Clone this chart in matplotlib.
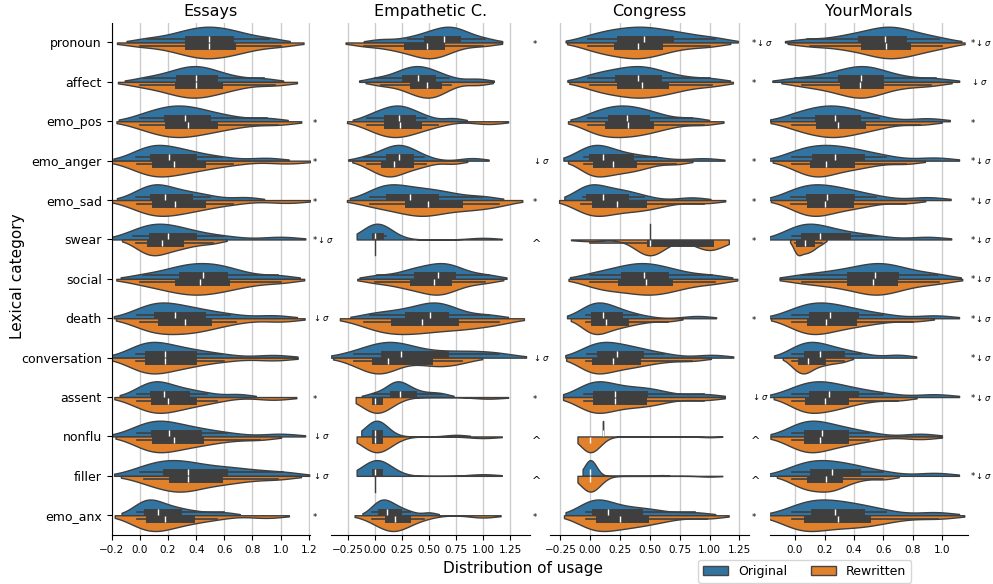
import numpy as np
import pandas as pd
import matplotlib
matplotlib.use("Agg")
import matplotlib.pyplot as plt
import matplotlib.transforms as mtransforms
import seaborn as sns

categories = ["pronoun", "affect", "emo_pos", "emo_anger", "emo_sad", "swear", "social",
              "death", "conversation", "assent", "nonflu", "filler", "emo_anx"]
datasets = ["Essays", "Empathetic C.", "Congress", "YourMorals"]
sources = ["Original", "Rewritten"]

# sample values (one list per category)
essays_orig = [
    [0.05, 0.22, 0.31, 0.38, 0.44, 0.49, 0.54, 0.61, 0.67, 0.76, 0.92],
    [0.03, 0.17, 0.25, 0.31, 0.36, 0.40, 0.44, 0.50, 0.56, 0.68, 0.88],
    [0.0, 0.10, 0.16, 0.22, 0.27, 0.32, 0.37, 0.44, 0.52, 0.65, 0.90],
    [-0.03, 0.04, 0.08, 0.11, 0.15, 0.21, 0.27, 0.34, 0.42, 0.58, 0.90],
    [-0.03, 0.04, 0.07, 0.11, 0.14, 0.18, 0.23, 0.32, 0.38, 0.50, 0.75],
    [-0.05, 0.03, 0.07, 0.10, 0.15, 0.20, 0.26, 0.33, 0.42, 0.60, 1.0],
    [0.02, 0.18, 0.27, 0.33, 0.39, 0.45, 0.51, 0.57, 0.63, 0.75, 0.98],
    [-0.02, 0.06, 0.10, 0.14, 0.19, 0.25, 0.31, 0.40, 0.48, 0.64, 0.95],
    [-0.03, 0.02, 0.04, 0.08, 0.12, 0.18, 0.24, 0.34, 0.41, 0.58, 0.95],
    [-0.02, 0.04, 0.07, 0.11, 0.14, 0.17, 0.22, 0.30, 0.36, 0.48, 0.70],
    [-0.02, 0.04, 0.08, 0.12, 0.16, 0.21, 0.28, 0.37, 0.45, 0.62, 1.0],
    [0.0, 0.09, 0.15, 0.22, 0.28, 0.34, 0.42, 0.55, 0.65, 0.80, 1.02],
    [-0.02, 0.02, 0.04, 0.06, 0.09, 0.13, 0.17, 0.24, 0.30, 0.42, 0.60],
]
essays_rew = [
    [0.0, 0.20, 0.31, 0.38, 0.44, 0.49, 0.55, 0.62, 0.69, 0.80, 1.0],
    [0.0, 0.15, 0.24, 0.30, 0.36, 0.40, 0.45, 0.53, 0.59, 0.72, 0.96],
    [0.0, 0.10, 0.17, 0.23, 0.28, 0.34, 0.40, 0.49, 0.57, 0.72, 0.98],
    [-0.02, 0.05, 0.09, 0.12, 0.17, 0.24, 0.31, 0.40, 0.48, 0.66, 1.05],
    [-0.02, 0.05, 0.09, 0.13, 0.18, 0.25, 0.31, 0.40, 0.48, 0.66, 1.05],
    [-0.03, 0.03, 0.06, 0.09, 0.12, 0.16, 0.20, 0.26, 0.31, 0.40, 0.52],
    [0.0, 0.15, 0.23, 0.31, 0.37, 0.43, 0.49, 0.57, 0.65, 0.78, 1.0],
    [0.0, 0.07, 0.12, 0.18, 0.25, 0.32, 0.37, 0.45, 0.52, 0.68, 1.0],
    [-0.03, 0.02, 0.04, 0.08, 0.12, 0.18, 0.25, 0.34, 0.41, 0.60, 0.95],
    [-0.02, 0.04, 0.08, 0.12, 0.16, 0.20, 0.26, 0.35, 0.41, 0.55, 0.95],
    [-0.02, 0.05, 0.09, 0.13, 0.18, 0.24, 0.30, 0.39, 0.47, 0.62, 0.85],
    [0.03, 0.12, 0.19, 0.26, 0.30, 0.34, 0.40, 0.52, 0.60, 0.75, 0.98],
    [-0.02, 0.03, 0.05, 0.08, 0.13, 0.18, 0.23, 0.32, 0.40, 0.55, 0.90],
]
empathetic_orig = [
    [0.05, 0.30, 0.44, 0.52, 0.59, 0.64, 0.69, 0.74, 0.78, 0.86, 1.02],
    [0.0, 0.16, 0.26, 0.30, 0.35, 0.40, 0.45, 0.50, 0.56, 0.68, 0.95],
    [-0.08, 0.02, 0.08, 0.13, 0.18, 0.22, 0.26, 0.31, 0.37, 0.47, 0.72],
    [-0.10, 0.03, 0.10, 0.15, 0.19, 0.22, 0.26, 0.30, 0.34, 0.45, 0.90],
    [-0.05, 0.06, 0.10, 0.15, 0.23, 0.32, 0.40, 0.51, 0.60, 0.75, 1.0],
    [0.0, 0.0, 0.0, 0.0, 0.0, 0.0, 0.0, 0.03, 0.06, 0.10, 1.0],
    [0.02, 0.25, 0.36, 0.42, 0.52, 0.58, 0.63, 0.68, 0.74, 0.85, 1.05],
    [-0.05, 0.12, 0.25, 0.36, 0.45, 0.51, 0.56, 0.62, 0.68, 0.80, 1.05],
    [-0.20, -0.02, 0.05, 0.11, 0.17, 0.24, 0.33, 0.55, 0.75, 0.95, 1.15],
    [-0.02, 0.10, 0.15, 0.18, 0.21, 0.23, 0.26, 0.32, 0.38, 0.50, 0.62],
    [0.0, 0.0, 0.0, 0.0, 0.0, 0.0, 0.0, 0.02, 0.04, 0.08, 0.75],
    [0.0, 0.0, 0.0, 0.0, 0.0, 0.0, 0.0, 0.02, 0.05, 0.10, 1.0],
    [-0.03, 0.01, 0.04, 0.06, 0.09, 0.11, 0.14, 0.19, 0.23, 0.32, 0.50],
]
empathetic_rew = [
    [-0.10, 0.12, 0.24, 0.35, 0.42, 0.48, 0.52, 0.58, 0.63, 0.75, 1.0],
    [0.05, 0.22, 0.33, 0.37, 0.43, 0.48, 0.52, 0.56, 0.60, 0.70, 0.95],
    [-0.08, 0.02, 0.08, 0.13, 0.18, 0.23, 0.28, 0.36, 0.43, 0.58, 1.05],
    [-0.08, 0.0, 0.06, 0.10, 0.14, 0.17, 0.21, 0.29, 0.36, 0.47, 0.72],
    [-0.05, 0.12, 0.25, 0.35, 0.43, 0.49, 0.57, 0.72, 0.84, 0.98, 1.15],
    [0.0, 0.0, 0.0, 0.0, 0.0, 0.0, 0.0, 0.0, 0.0, 0.0, 0.0],
    [0.0, 0.20, 0.30, 0.40, 0.48, 0.54, 0.59, 0.64, 0.70, 0.82, 1.02],
    [-0.10, 0.05, 0.13, 0.22, 0.33, 0.43, 0.53, 0.68, 0.80, 0.95, 1.15],
    [-0.20, -0.08, -0.02, 0.02, 0.07, 0.12, 0.20, 0.44, 0.56, 0.66, 0.80],
    [0.0, 0.0, 0.0, 0.0, 0.0, 0.0, 0.0, 0.02, 0.05, 0.10, 1.05],
    [0.0, 0.0, 0.0, 0.0, 0.0, 0.0, 0.0, 0.02, 0.05, 0.10, 1.0],
    [0.0, 0.0, 0.0, 0.0, 0.0, 0.0, 0.0, 0.0, 0.0, 0.0, 0.0],
    [-0.03, 0.04, 0.10, 0.14, 0.16, 0.18, 0.21, 0.26, 0.32, 0.45, 1.0],
]
congress_orig = [
    [-0.02, 0.12, 0.20, 0.30, 0.38, 0.45, 0.52, 0.62, 0.72, 0.85, 1.05],
    [-0.02, 0.10, 0.18, 0.28, 0.34, 0.40, 0.46, 0.53, 0.61, 0.76, 1.0],
    [-0.02, 0.08, 0.14, 0.20, 0.26, 0.31, 0.36, 0.44, 0.50, 0.62, 0.85],
    [-0.05, -0.01, 0.0, 0.03, 0.07, 0.11, 0.17, 0.28, 0.38, 0.55, 0.95],
    [-0.06, -0.03, -0.02, 0.0, 0.05, 0.11, 0.20, 0.27, 0.31, 0.45, 0.85],
    [0.5, 0.5, 0.5, 0.5, 0.5, 0.5, 0.5, 0.5, 0.5, 0.5, 0.5],
    [0.0, 0.15, 0.24, 0.33, 0.39, 0.45, 0.51, 0.59, 0.67, 0.80, 1.02],
    [-0.04, 0.0, 0.02, 0.04, 0.07, 0.11, 0.15, 0.21, 0.27, 0.40, 0.90],
    [-0.03, 0.02, 0.06, 0.11, 0.16, 0.22, 0.29, 0.38, 0.45, 0.62, 1.02],
    [-0.05, 0.0, 0.03, 0.07, 0.12, 0.21, 0.30, 0.42, 0.48, 0.62, 0.95],
    [0.11, 0.11, 0.11, 0.11, 0.11, 0.11, 0.11, 0.11, 0.11, 0.11, 0.11],
    [0.0, 0.0, 0.0, 0.0, 0.0, 0.0, 0.0, 0.0, 0.0, 0.0, 0.0, 0.0, 0.0, 0.0,
     0.0, 0.0, 0.0, 0.0, 0.0, 0.0, 0.02, 0.60],
    [-0.04, 0.0, 0.02, 0.06, 0.10, 0.15, 0.25, 0.36, 0.45, 0.60, 0.88],
]
congress_rew = [
    [-0.02, 0.10, 0.18, 0.27, 0.34, 0.40, 0.46, 0.54, 0.62, 0.78, 1.0],
    [0.0, 0.12, 0.20, 0.30, 0.37, 0.43, 0.50, 0.59, 0.67, 0.80, 1.02],
    [-0.02, 0.06, 0.12, 0.18, 0.25, 0.32, 0.38, 0.46, 0.54, 0.68, 0.95],
    [-0.05, 0.0, 0.03, 0.07, 0.13, 0.19, 0.25, 0.33, 0.39, 0.50, 0.72],
    [-0.08, -0.02, 0.02, 0.06, 0.12, 0.22, 0.30, 0.41, 0.47, 0.62, 0.95],
    [0.0, 0.5, 0.5, 0.5, 0.5, 0.5, 0.5, 0.5, 0.5, 0.5, 1.0, 1.0, 1.0, 1.0, 1.0, 1.0],
    [0.0, 0.12, 0.20, 0.32, 0.40, 0.47, 0.54, 0.62, 0.70, 0.84, 1.05],
    [-0.04, 0.0, 0.02, 0.04, 0.08, 0.13, 0.18, 0.26, 0.32, 0.45, 0.65],
    [-0.04, 0.0, 0.02, 0.06, 0.12, 0.19, 0.26, 0.36, 0.43, 0.60, 0.85],
    [-0.05, 0.0, 0.03, 0.07, 0.11, 0.21, 0.30, 0.41, 0.48, 0.62, 0.95],
    [0.0, 0.0, 0.0, 0.0, 0.0, 0.0, 0.0, 0.0, 0.0, 0.0, 0.0, 0.0, 0.0, 0.0,
     0.0, 0.0, 0.0, 0.0, 0.0, 0.0, 0.02, 1.0],
    [0.0, 0.0, 0.0, 0.0, 0.0, 0.0, 0.0, 0.0, 0.0, 0.0, 0.0, 0.0, 0.0, 0.0,
     0.0, 0.0, 0.0, 0.0, 0.0, 0.0, 0.02, 1.0],
    [-0.04, 0.01, 0.04, 0.10, 0.17, 0.25, 0.32, 0.42, 0.50, 0.66, 0.98],
]
morals_orig = [
    [0.08, 0.30, 0.40, 0.50, 0.56, 0.61, 0.65, 0.71, 0.76, 0.85, 0.98],
    [0.0, 0.18, 0.27, 0.36, 0.41, 0.45, 0.49, 0.55, 0.61, 0.75, 0.96],
    [-0.02, 0.06, 0.12, 0.19, 0.23, 0.27, 0.32, 0.39, 0.45, 0.57, 0.90],
    [-0.02, 0.05, 0.10, 0.17, 0.22, 0.27, 0.33, 0.41, 0.48, 0.62, 0.95],
    [-0.03, 0.03, 0.07, 0.12, 0.17, 0.22, 0.27, 0.35, 0.41, 0.55, 0.90],
    [-0.02, 0.02, 0.04, 0.08, 0.12, 0.17, 0.22, 0.31, 0.40, 0.55, 0.90],
    [0.05, 0.22, 0.32, 0.42, 0.49, 0.54, 0.59, 0.65, 0.71, 0.82, 0.97],
    [-0.02, 0.05, 0.09, 0.14, 0.19, 0.24, 0.29, 0.37, 0.45, 0.60, 0.95],
    [-0.02, 0.03, 0.06, 0.10, 0.13, 0.17, 0.21, 0.28, 0.34, 0.45, 0.70],
    [-0.02, 0.05, 0.09, 0.14, 0.18, 0.23, 0.28, 0.37, 0.45, 0.60, 0.95],
    [-0.02, 0.03, 0.06, 0.10, 0.14, 0.18, 0.23, 0.31, 0.37, 0.50, 0.85],
    [-0.02, 0.05, 0.09, 0.15, 0.20, 0.25, 0.31, 0.39, 0.45, 0.60, 0.95],
    [-0.02, 0.06, 0.10, 0.16, 0.22, 0.27, 0.33, 0.42, 0.48, 0.62, 0.95],
]
morals_rew = [
    [0.10, 0.30, 0.42, 0.52, 0.58, 0.62, 0.67, 0.74, 0.78, 0.88, 1.0],
    [0.05, 0.20, 0.28, 0.37, 0.41, 0.44, 0.49, 0.55, 0.61, 0.75, 0.92],
    [-0.02, 0.07, 0.13, 0.20, 0.25, 0.29, 0.34, 0.42, 0.49, 0.60, 0.85],
    [-0.02, 0.05, 0.10, 0.14, 0.17, 0.21, 0.26, 0.35, 0.41, 0.53, 0.75],
    [-0.03, 0.04, 0.08, 0.12, 0.16, 0.20, 0.25, 0.34, 0.40, 0.52, 0.75],
    [0.0, 0.01, 0.02, 0.03, 0.05, 0.07, 0.08, 0.10, 0.12, 0.14, 0.18],
    [0.05, 0.22, 0.32, 0.43, 0.49, 0.53, 0.58, 0.64, 0.70, 0.82, 0.98],
    [-0.02, 0.04, 0.08, 0.12, 0.16, 0.21, 0.27, 0.35, 0.43, 0.56, 0.80],
    [-0.02, 0.01, 0.03, 0.05, 0.07, 0.09, 0.11, 0.16, 0.20, 0.26, 0.33],
    [-0.02, 0.04, 0.07, 0.11, 0.15, 0.20, 0.25, 0.31, 0.37, 0.50, 0.70],
    [-0.02, 0.03, 0.06, 0.10, 0.13, 0.17, 0.22, 0.31, 0.37, 0.50, 0.85],
    [-0.02, 0.05, 0.08, 0.12, 0.17, 0.21, 0.24, 0.28, 0.32, 0.42, 0.60],
    [-0.02, 0.03, 0.06, 0.10, 0.19, 0.29, 0.36, 0.46, 0.52, 0.68, 0.97],
]

# significance marks shown to the right of each panel
essays_marks = ["", "", "*", "*", "*", "*↓σ", "", "↓σ", "", "*", "↓σ", "↓σ", "*"]
empathetic_marks = ["*", "", "", "↓σ", "*", "^", "", "", "↓σ", "*", "^", "^", "*"]
congress_marks = ["*↓σ", "*", "", "*", "*", "*", "", "*", "", "↓σ", "^", "^", "*"]
morals_marks = ["*↓σ", "↓σ", "*", "*↓σ", "*↓σ", "*↓σ", "*↓σ", "*↓σ", "*↓σ", "*↓σ", "", "*↓σ", ""]

mark_tex = {"*": r"$*$", "↓σ": r"$\downarrow\sigma$", "*↓σ": r"$*\downarrow\sigma$"}

panel_data = [(essays_orig, essays_rew), (empathetic_orig, empathetic_rew),
              (congress_orig, congress_rew), (morals_orig, morals_rew)]
panel_marks = [essays_marks, empathetic_marks, congress_marks, morals_marks]
xlims = [(-0.2, 1.21), (-0.41, 1.43), (-0.335, 1.33), (-0.172, 1.175)]
xticks = [np.arange(-0.2, 1.21, 0.2), np.arange(-0.25, 1.26, 0.25),
          np.arange(-0.25, 1.26, 0.25), np.arange(0.0, 1.01, 0.2)]


def to_long(orig, rew):
    rows = []
    for cat, o, r in zip(categories, orig, rew):
        rows += [(cat, "Original", v) for v in o]
        rows += [(cat, "Rewritten", v) for v in r]
    return pd.DataFrame(rows, columns=["category", "source", "value"])


fig, axes = plt.subplots(1, 4, figsize=(9.93, 5.84), dpi=100)
fig.subplots_adjust(left=0.1125, right=0.975, bottom=0.084, top=0.961, wspace=0.105)

for i, ax in enumerate(axes):
    df = to_long(*panel_data[i])
    ax.set_facecolor("none")
    ax.grid(axis="x", color="#cccccc", linewidth=1)
    ax.set_axisbelow(True)
    sns.violinplot(data=df, x="value", y="category", hue="source", order=categories,
                   hue_order=sources, split=True, inner="box", density_norm="width",
                   bw_adjust=0.72, cut=1.3, linewidth=1, ax=ax, legend=False,
                   inner_kws=dict(box_width=5, whis_width=1.2))
    ax.set_xlim(*xlims[i])
    ax.set_xticks(xticks[i])
    ax.tick_params(axis="x", labelsize=7.5)
    ax.set_title(datasets[i], fontsize=11.5, pad=5)
    ax.set_xlabel("")
    ax.set_ylabel("")
    ax.spines["top"].set_visible(False)
    ax.spines["right"].set_visible(False)
    if i == 0:
        ax.tick_params(axis="y", labelsize=9)
    else:
        ax.spines["left"].set_visible(False)
        ax.set_yticks([])
    trans = mtransforms.blended_transform_factory(ax.transAxes, ax.transData)
    for j, m in enumerate(panel_marks[i]):
        if m == "^":
            ax.text(1.01, j + 0.12, "^", transform=trans, fontsize=8, va="center", ha="left")
        elif m:
            ax.text(1.01, j, mark_tex[m], transform=trans, fontsize=6, va="center", ha="left")

fig.text(0.01, 0.527, "Lexical category", rotation=90, va="center", fontsize=11)
fig.text(0.527, 0.014, "Distribution of usage", ha="center", va="bottom", fontsize=11)

pal = sns.color_palette()
handles = [plt.Rectangle((0, 0), 1, 1, facecolor=sns.desaturate(pal[0], 0.75), edgecolor="#444444"),
           plt.Rectangle((0, 0), 1, 1, facecolor=sns.desaturate(pal[1], 0.75), edgecolor="#444444")]
fig.legend(handles, sources, ncol=2, loc="lower left", bbox_to_anchor=(0.702, 0.0),
           borderaxespad=0.1, fontsize=9, frameon=True, handlelength=2.0, columnspacing=1.9)

fig.savefig("out.png", dpi=100)
